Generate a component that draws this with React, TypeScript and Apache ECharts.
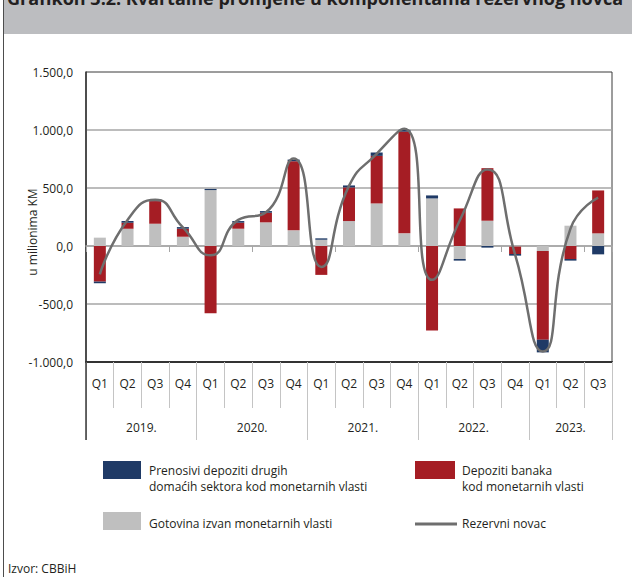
import React, { useEffect, useRef } from 'react';
import * as echarts from 'echarts';

const periods = [
  '2019 Q1', '2019 Q2', '2019 Q3', '2019 Q4',
  '2020 Q1', '2020 Q2', '2020 Q3', '2020 Q4',
  '2021 Q1', '2021 Q2', '2021 Q3', '2021 Q4',
  '2022 Q1', '2022 Q2', '2022 Q3', '2022 Q4',
  '2023 Q1', '2023 Q2', '2023 Q3',
];
const years = ['2019.', '2020.', '2021.', '2022.', '2023.'];
const yearStarts = [0, 4, 8, 12, 16];

// u milionima KM
const gotovina = [72, 149, 192, 80, 482, 149, 204, 135, 54, 215, 367, 109, 410, -112, 218, -5, -43, 175, 109];
const depozitiBanaka = [-307, 52, 195, 69, -579, 52, 83, 596, -249, 290, 410, 877, -728, 324, 453, -64, -765, -112, 370];
const prenosiviDepoziti = [-14, 14, 15, 14, 10, 14, 14, 14, 12, 17, 29, 15, 26, -14, -14, -14, -109, -14, -72];
const rezervniNovac = [-245, 225, 398, 160, -80, 225, 290, 755, -180, 518, 795, 1010, -292, 220, 660, -75, -910, 150, 418];

const yMin = -1000;
const yMax = 1500;
const yStep = 500;

const title = 'Grafikon 3.2. Kvartalne promjene u komponentama rezervnog novca';
const legendBlue = 'Prenosivi depoziti drugih\ndomaćih sektora kod monetarnih vlasti';
const legendRed = 'Depoziti banaka\nkod monetarnih vlasti';
const legendGray = 'Gotovina izvan monetarnih vlasti';
const legendLine = 'Rezervni novac';
const yName = 'u milionima KM';
const source = 'Izvor: CBBiH';

const FONT = '"Open Sans", "Noto Sans", sans-serif';
const TXT = '#231F20';
const C_GRAY = '#BFBFBF';
const C_RED = '#A51D24';
const C_BLUE = '#1F3A66';
const C_LINE = '#6E6E6E';
const C_GRID = '#A6A6A6';

function fmt(v: number): string {
  const neg = v < 0;
  const parts = Math.abs(v).toFixed(1).split('.');
  const int = parts[0].replace(/\B(?=(\d{3})+(?!\d))/g, '.');
  return (neg ? '-' : '') + int + ',' + parts[1];
}

export default function App() {
  const ref = useRef<HTMLDivElement>(null);

  useEffect(() => {
    if (!ref.current) return;
    const chart = echarts.init(ref.current, undefined, { renderer: 'svg' });

    const staticGraphics: any[] = [
      { type: 'rect', shape: { x: 4, y: 0, width: 628, height: 34 }, style: { fill: '#BCBDC0' }, z: 0 },
      { type: 'line', shape: { x1: 3.5, y1: 0, x2: 3.5, y2: 577 }, style: { stroke: '#4D4D4D', lineWidth: 1 }, z: 1 },
      {
        type: 'text', x: 7, y: -2, z: 2,
        style: { text: title, fontSize: 18, fontWeight: 'bold', fontFamily: FONT, fill: TXT, verticalAlign: 'middle', align: 'left' },
      },
      {
        type: 'text', x: 32, y: 232, rotation: Math.PI / 2, z: 2,
        style: { text: yName, fontSize: 12, fontFamily: FONT, fill: TXT, align: 'center', verticalAlign: 'middle' },
      },
      { type: 'line', shape: { x1: 86, y1: 362, x2: 86, y2: 440 }, style: { stroke: '#3A3A3A', lineWidth: 1.5 }, z: 2 },
      // legend
      { type: 'rect', shape: { x: 103, y: 461, width: 38, height: 18 }, style: { fill: C_BLUE } },
      {
        type: 'text', x: 149, y: 462,
        style: { text: legendBlue, fontSize: 12, lineHeight: 16, fontFamily: FONT, fill: TXT, verticalAlign: 'top' },
      },
      { type: 'rect', shape: { x: 415, y: 461, width: 40, height: 18 }, style: { fill: C_RED } },
      {
        type: 'text', x: 462, y: 462,
        style: { text: legendRed, fontSize: 12, lineHeight: 16, fontFamily: FONT, fill: TXT, verticalAlign: 'top' },
      },
      { type: 'rect', shape: { x: 103, y: 512, width: 38, height: 18 }, style: { fill: C_GRAY } },
      {
        type: 'text', x: 149, y: 523,
        style: { text: legendGray, fontSize: 12, fontFamily: FONT, fill: TXT, verticalAlign: 'middle' },
      },
      { type: 'line', shape: { x1: 415, y1: 524, x2: 457, y2: 524 }, style: { stroke: C_LINE, lineWidth: 3 } },
      {
        type: 'text', x: 462, y: 523,
        style: { text: legendLine, fontSize: 12, fontFamily: FONT, fill: TXT, verticalAlign: 'middle' },
      },
      {
        type: 'text', x: 8, y: 568,
        style: { text: source, fontSize: 12, fontFamily: FONT, fill: TXT, verticalAlign: 'middle' },
      },
    ];

    const option: any = {
      animation: false,
      textStyle: { fontFamily: FONT },
      grid: {
        left: 86, right: 20, top: 72, bottom: 215,
        show: true, borderColor: '#3A3A3A', borderWidth: 1,
        containLabel: false, outerBoundsMode: 'none',
      },
      xAxis: [
        {
          type: 'category', data: periods, position: 'bottom',
          axisLine: { onZero: true, lineStyle: { color: C_GRID, width: 1.5 } },
          axisTick: { show: true, length: 6, lineStyle: { color: C_GRID, width: 1 } },
          axisLabel: { show: false },
          splitLine: { show: false },
        },
        {
          type: 'category', data: periods, position: 'bottom',
          axisLine: { onZero: false, lineStyle: { color: '#333333', width: 2 } },
          axisTick: { show: true, length: 46, lineStyle: { color: '#C4C4C4', width: 1 } },
          axisLabel: {
            interval: 0, margin: 15, fontSize: 12, color: TXT, fontFamily: FONT,
            formatter: (v: string) => v.split(' ')[1],
          },
          splitLine: { show: false },
        },
        {
          type: 'category', data: periods, position: 'bottom',
          axisLine: { show: false, onZero: false },
          axisTick: {
            show: true, length: 78, lineStyle: { color: '#C4C4C4', width: 1 },
            interval: (i: number) => yearStarts.indexOf(i) >= 0,
          },
          axisLabel: { show: false },
          splitLine: { show: false },
        },
      ],
      yAxis: {
        type: 'value', min: yMin, max: yMax, interval: yStep,
        axisLine: { show: true, lineStyle: { color: '#333333', width: 1.5 } },
        axisTick: { show: false },
        axisLabel: { formatter: fmt, fontSize: 12, color: TXT, margin: 13, fontFamily: FONT, padding: [5, 0, 0, 0] },
        splitLine: { show: true, showMinLine: false, showMaxLine: false, lineStyle: { color: C_GRID, width: 1.5 } },
      },
      series: [
        {
          name: legendGray, type: 'bar', stack: 'rm', data: gotovina, barWidth: 12,
          itemStyle: { color: C_GRAY },
        },
        {
          name: legendRed, type: 'bar', stack: 'rm', data: depozitiBanaka, barWidth: 12,
          itemStyle: { color: C_RED },
        },
        {
          name: legendBlue, type: 'bar', stack: 'rm', data: prenosiviDepoziti, barWidth: 12,
          itemStyle: { color: C_BLUE },
        },
        {
          name: legendLine, type: 'line', data: rezervniNovac, smooth: 0.55, symbol: 'none',
          lineStyle: { color: C_LINE, width: 2.5 }, z: 5,
        },
      ],
      graphic: staticGraphics,
    };

    chart.setOption(option);

    // year labels centred under their quarters
    const yearGraphics: any[] = years.map((label, k) => {
      const start = yearStarts[k];
      const end = k + 1 < yearStarts.length ? yearStarts[k + 1] - 1 : periods.length - 1;
      const x1 = chart.convertToPixel({ xAxisIndex: 0 }, start) as number;
      const x2 = chart.convertToPixel({ xAxisIndex: 0 }, end) as number;
      return {
        type: 'text', x: (x1 + x2) / 2, y: 427,
        style: { text: label, fontSize: 12, fontFamily: FONT, fill: TXT, align: 'center', verticalAlign: 'middle' },
      };
    });
    chart.setOption({ graphic: staticGraphics.concat(yearGraphics) });

    return () => chart.dispose();
  }, []);

  return (
    <div style={{ position: 'absolute', left: 0, top: 0, width: 632, height: 577, background: '#ffffff' }}>
      <div ref={ref} style={{ width: 632, height: 577 }} />
    </div>
  );
}
